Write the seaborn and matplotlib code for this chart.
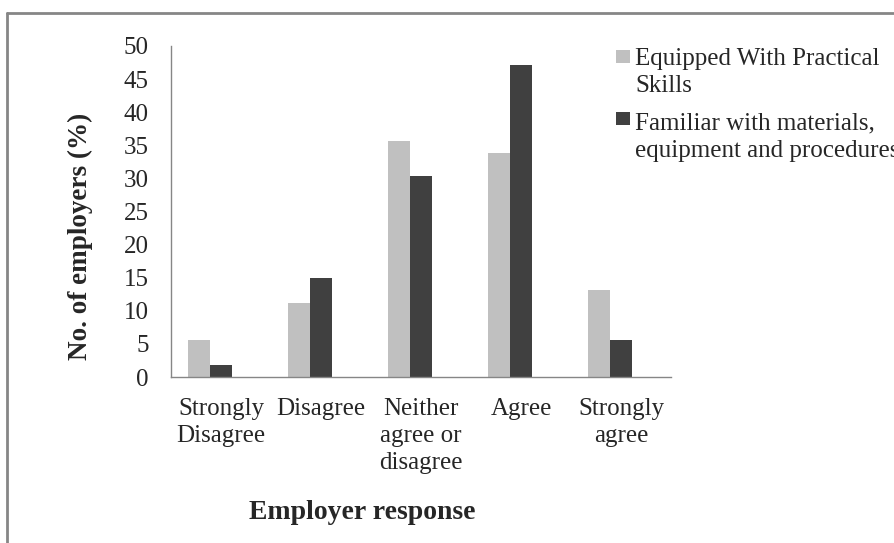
import numpy as np
import pandas as pd
import matplotlib
matplotlib.use("Agg")
import matplotlib.pyplot as plt
from matplotlib.patches import Rectangle
from matplotlib.lines import Line2D
import seaborn as sns

categories = ["Strongly\nDisagree", "Disagree", "Neither\nagree or\ndisagree", "Agree", "Strongly\nagree"]
series_names = ["Equipped With Practical\nSkills", "Familiar with materials,\nequipment and procedures"]
practical = [5.6, 11.2, 35.7, 33.9, 13.2]
familiar = [1.8, 15.0, 30.3, 47.2, 5.6]
colors = ["#C0C0C0", "#404040"]
yticks = list(range(0, 55, 5))

df = pd.DataFrame({
    "category": categories * 2,
    "series": [series_names[0]] * len(categories) + [series_names[1]] * len(categories),
    "value": practical + familiar,
})

sns.set_style("white")
plt.rcParams["font.family"] = ["Liberation Serif", "DejaVu Serif"]

W, H = 895, 543
fig = plt.figure(figsize=(W / 100, H / 100), dpi=100)
ax = fig.add_axes([171 / W, 1 - 377 / H, 500 / W, 331 / H])

sns.barplot(data=df, x="category", y="value", hue="series", order=categories,
            hue_order=series_names, palette=colors, width=0.44, gap=0,
            saturation=1, legend=False, linewidth=0, ax=ax)

ax.set_ylim(0, 50)
ax.set_xlim(-0.39, len(categories) - 0.39)
ax.set_yticks(yticks)
ax.set_yticklabels([str(t) for t in yticks], fontsize=18)
ax.set_xticks(np.arange(len(categories)) + 0.11)
ax.set_xticklabels(categories, fontsize=18, linespacing=1.3)
ax.set_xticks(np.arange(len(categories) + 1) - 0.39, minor=True)
ax.tick_params(axis="x", which="major", length=0, pad=15)
ax.tick_params(axis="x", which="minor", length=6, width=1, color="#868686", direction="out")
ax.tick_params(axis="y", length=6, width=1, color="#868686", direction="out", pad=10)

for s in ["top", "right"]:
    ax.spines[s].set_visible(False)
for s in ["left", "bottom"]:
    ax.spines[s].set_color("#868686")
    ax.spines[s].set_linewidth(1)

ax.set_ylabel("No. of employers (%)", fontsize=19.5, fontweight="bold")
ax.yaxis.set_label_coords(-0.156, (377 - 236) / 331)
ax.set_xlabel("Employer response", fontsize=20, fontweight="bold")
ax.xaxis.set_label_coords((362 - 171) / 500, (377 - 500) / 331)

# legend (drawn manually so the swatch aligns with the first text line)
sq_tops = [50, 112]
last_baselines = [92, 157]
for i, name in enumerate(series_names):
    fig.add_artist(Rectangle((616 / W, 1 - (sq_tops[i] + 13) / H), 14 / W, 13 / H,
                             transform=fig.transFigure, facecolor=colors[i], edgecolor="none"))
    fig.text(635 / W, 1 - last_baselines[i] / H, name, fontsize=18, va="baseline",
             ha="left", linespacing=1.3)

# outer chart border
fig.add_artist(Line2D([7 / W, 1], [1 - 13 / H, 1 - 13 / H], transform=fig.transFigure,
                      color="#868686", linewidth=2))
fig.add_artist(Line2D([7 / W, 7 / W], [0, 1 - 13 / H], transform=fig.transFigure,
                      color="#868686", linewidth=2))

fig.savefig("out.png", dpi=100)
